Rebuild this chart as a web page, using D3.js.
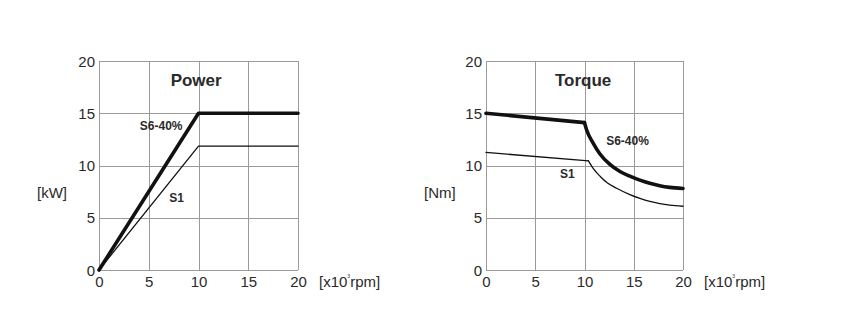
<!DOCTYPE html>
<html><head><meta charset="utf-8">
<script src="https://cdn.jsdelivr.net/npm/d3@7"></script>
<style>body{margin:0;background:#fff}svg{display:block}text{font-family:"Liberation Sans",Arial,sans-serif;fill:#2a2a2a}</style>
</head><body><svg id="c" width="848" height="334"></svg>
<script>
// ---- data ----
const xTicks = [0, 5, 10, 15, 20];
const yTicks = [0, 5, 10, 15, 20];
const powerS6 = [[0, 0], [10, 15], [20, 15]];
const powerS1 = [[0, 0], [10, 11.85], [20, 11.85]];
const torqueS6Flat = [[0, 15], [10, 14.1]];
const torqueS6Curve = [[10, 14.1], [10.22, 13.4], [10.89, 12.12], [11.57, 11.1], [12.58, 10.1], [13.6, 9.42], [14.6, 8.98], [15.62, 8.6], [16.63, 8.3], [17.64, 8.07], [18.65, 7.91], [20, 7.8]];
const torqueS1Flat = [[0, 11.25], [10.4, 10.45]];
const torqueS1Curve = [[10.4, 10.45], [10.9, 9.7], [11.6, 8.95], [12.3, 8.35], [13.26, 7.82], [14.6, 7.22], [15.62, 6.86], [16.63, 6.57], [17.64, 6.36], [18.65, 6.21], [20, 6.1]];

const svg = d3.select("#c");
const H = {top: 61, bottom: 270};

function panel(x0, x1, opt) {
  const x = d3.scaleLinear().domain([0, 20]).range([x0, x1]);
  const y = d3.scaleLinear().domain([0, 20]).range([H.bottom, H.top]);
  const g = svg.append("g");
  // grid
  g.selectAll(".gx").data(xTicks).join("line")
    .attr("x1", d => Math.round(x(d)) + 0.5).attr("x2", d => Math.round(x(d)) + 0.5)
    .attr("y1", H.top).attr("y2", H.bottom).attr("stroke", "#9a9a9a").attr("stroke-width", 1);
  g.selectAll(".gy").data(yTicks).join("line")
    .attr("y1", d => Math.round(y(d)) + 0.5).attr("y2", d => Math.round(y(d)) + 0.5)
    .attr("x1", x0).attr("x2", x1).attr("stroke", "#9a9a9a").attr("stroke-width", 1);
  // tick labels
  g.selectAll(".tx").data(xTicks).join("text")
    .attr("x", d => x(d) + 0.5).attr("y", 287).attr("text-anchor", "middle")
    .attr("font-size", 15).text(d => d);
  g.selectAll(".ty").data(yTicks).join("text")
    .attr("x", x0 - 4).attr("y", d => y(d) + 5.5).attr("text-anchor", "end")
    .attr("font-size", 15).text(d => d);
  // axis labels
  g.append("text").attr("x", x0 - 62).attr("y", 197.5).attr("font-size", 15).text(opt.unit);
  const xl = g.append("text").attr("x", x1 + 21).attr("y", 287).attr("font-size", 15);
  xl.append("tspan").text("[x10");
  xl.append("tspan").attr("font-size", 5).attr("dy", -9).text("3");
  xl.append("tspan").attr("dy", 9).text("rpm]");
  // title
  g.append("text").attr("x", x(opt.titleX)).attr("y", 86).attr("font-size", 17)
    .attr("font-weight", "bold").text(opt.title);
  // lines
  const lin = d3.line().x(d => x(d[0])).y(d => y(d[1]));
  const cur = d3.line().x(d => x(d[0])).y(d => y(d[1])).curve(d3.curveMonotoneX);
  opt.series.forEach(s => {
    (s.flat ? [[s.flat, lin], [s.curve, cur]] : [[s.data, lin]]).forEach(([dat, gen]) => {
      g.append("path").attr("d", gen(dat)).attr("fill", "none").attr("stroke", "#111")
        .attr("stroke-width", s.w).attr("stroke-linejoin", "round").attr("stroke-linecap", "round");
    });
  });
  opt.labels.forEach(l => {
    g.append("text").attr("x", x(l[0])).attr("y", y(l[1])).attr("font-size", 12)
      .attr("font-weight", "bold").text(l[2]);
  });
}

panel(99, 298, {
  unit: "[kW]", title: "Power", titleX: 7.2,
  series: [{data: powerS6, w: 3.6}, {data: powerS1, w: 1.3}],
  labels: [[4.1, 13.35, "S6-40%"], [7.05, 6.55, "S1"]]
});
panel(486, 683, {
  unit: "[Nm]", title: "Torque", titleX: 7.0,
  series: [{flat: torqueS6Flat, curve: torqueS6Curve, w: 3.6}, {flat: torqueS1Flat, curve: torqueS1Curve, w: 1.3}],
  labels: [[12.2, 12.0, "S6-40%"], [7.5, 8.8, "S1"]]
});
</script></body></html>
